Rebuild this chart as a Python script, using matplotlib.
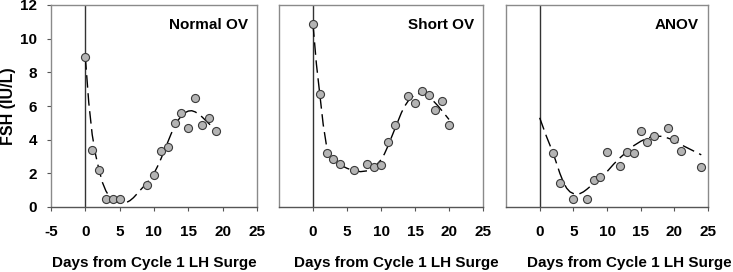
import matplotlib
matplotlib.use("Agg")
import matplotlib.pyplot as plt

plt.rcParams['font.family'] = ['Liberation Sans', 'DejaVu Sans']
plt.rcParams['font.weight'] = 'bold'
plt.rcParams['axes.unicode_minus'] = False

# observed FSH (IU/L) per day from cycle 1 LH surge
normal_days = [0, 1, 2, 3, 4, 5, 9, 10, 11, 12, 13, 14, 15, 16, 17, 18, 19]
normal_fsh = [8.9, 3.4, 2.2, 0.5, 0.5, 0.5, 1.3, 1.9, 3.3, 3.55, 5.0, 5.6, 4.7, 6.5, 4.9, 5.3, 4.5]

short_days = [0, 1, 2, 3, 4, 6, 8, 9, 10, 11, 12, 14, 15, 16, 17, 18, 19, 20]
short_fsh = [10.85, 6.7, 3.2, 2.85, 2.55, 2.2, 2.55, 2.35, 2.5, 3.85, 4.9, 6.6, 6.2, 6.9, 6.65, 5.75, 6.3, 4.85]

anov_days = [2, 3, 5, 7, 8, 9, 10, 12, 13, 14, 15, 16, 17, 19, 20, 21, 24]
anov_fsh = [3.2, 1.45, 0.5, 0.5, 1.6, 1.8, 3.25, 2.45, 3.25, 3.2, 4.5, 3.85, 4.2, 4.7, 4.05, 3.3, 2.4]

# fitted curves
normal_fit_x = [0, 0.5, 1, 1.5, 2, 2.5, 3, 3.5, 4, 4.5, 5, 5.5, 6, 6.5, 7, 7.5, 8, 8.5, 9, 9.5,
                10, 10.5, 11, 11.5, 12, 12.5, 13, 13.5, 14, 14.5, 15, 15.5, 16, 16.5, 17, 17.5, 18, 18.5, 19]
normal_fit_y = [8.9, 6.2, 4.3, 3.1, 2.2, 1.45, 0.95, 0.62, 0.42, 0.3, 0.24, 0.22, 0.27, 0.38, 0.55, 0.77,
                1.0, 1.22, 1.45, 1.7, 2.0, 2.4, 2.85, 3.35, 3.85, 4.35, 4.8, 5.15, 5.42, 5.6, 5.7, 5.72,
                5.65, 5.52, 5.35, 5.15, 4.95, 4.75, 4.58]

short_fit_x = [0, 0.5, 1, 1.5, 2, 2.5, 3, 4, 5, 6, 7, 8, 9, 10, 10.5, 11, 11.5, 12, 12.5, 13, 13.5,
               14, 14.5, 15, 15.5, 16, 16.5, 17, 17.5, 18, 18.5, 19, 19.5, 20]
short_fit_y = [10.85, 8.5, 6.7, 4.9, 3.6, 3.0, 2.75, 2.5, 2.3, 2.15, 2.1, 2.15, 2.35, 2.8, 3.15, 3.6,
               4.1, 4.6, 5.1, 5.6, 6.0, 6.3, 6.52, 6.65, 6.73, 6.75, 6.68, 6.55, 6.38, 6.17, 5.95,
               5.7, 5.45, 5.2]

anov_fit_x = [0, 0.5, 1, 1.5, 2, 2.5, 3, 3.5, 4, 4.5, 5, 5.5, 6, 6.5, 7, 7.5, 8, 9, 10, 11, 12, 13,
              14, 15, 16, 17, 18, 19, 20, 21, 22, 23, 24]
anov_fit_y = [5.3, 4.75, 4.2, 3.7, 3.2, 2.6, 2.0, 1.5, 1.12, 0.9, 0.8, 0.77, 0.8, 0.9, 1.05, 1.22, 1.4,
              1.75, 2.1, 2.55, 2.95, 3.3, 3.65, 3.9, 4.1, 4.2, 4.2, 4.1, 3.95, 3.7, 3.5, 3.3, 3.1]

panels = [
    ("Normal OV", normal_days, normal_fsh, normal_fit_x, normal_fit_y),
    ("Short OV", short_days, short_fsh, short_fit_x, short_fit_y),
    ("ANOV", anov_days, anov_fsh, anov_fit_x, anov_fit_y),
]

W, H = 733, 272
fig = plt.figure(figsize=(W / 100, H / 100), dpi=100)

# axes boxes in pixels (left, right) and where each x label is centred
boxes = [(51, 257), (279, 483), (506, 708)]
xlabel_pos = [0.5, 0.574, 0.609]
top, bottom = 5, 207

for i, (name, days, fsh, fx, fy) in enumerate(panels):
    l, r = boxes[i]
    ax = fig.add_axes([l / W, (H - bottom) / H, (r - l) / W, (bottom - top) / H])
    ax.set_xlim(-5, 25)
    ax.set_ylim(0, 12)

    ax.axvline(0, color='#333333', lw=1.0, zorder=1)
    ax.plot(fx, fy, color='black', lw=1.0, dashes=(9, 4), zorder=2)
    ax.plot(days, fsh, 'o', ms=5.8, mfc='#b4b4b4', mec='#3a3a3a', mew=0.8, zorder=3)

    for s in ax.spines.values():
        s.set_color('#8a8a8a')
        s.set_linewidth(1.0)
    ax.spines['bottom'].set_color('#555555')

    if i == 0:
        ax.set_xticks([-5, 0, 5, 10, 15, 20, 25])
        ax.set_yticks([0, 2, 4, 6, 8, 10, 12])
        ax.set_ylabel("FSH (IU/L)", fontsize=11.5, fontweight='bold')
        ax.yaxis.set_label_coords(-0.17, 0.5)
        ax.tick_params(axis='y', direction='out', length=3, width=0.8, color='#555555',
                       labelsize=11, pad=7)
    else:
        ax.set_xticks([0, 5, 10, 15, 20, 25])
        ax.set_yticks([])

    ax.tick_params(axis='x', direction='out', length=3, width=0.8, color='#555555',
                   labelsize=11, pad=10)
    for lab in ax.get_xticklabels() + ax.get_yticklabels():
        lab.set_fontweight('bold')

    ax.set_xlabel("Days from Cycle 1 LH Surge", fontsize=11, fontweight='bold')
    ax.xaxis.set_label_coords(xlabel_pos[i], -0.245)
    ax.text(0.955, 0.90, name, transform=ax.transAxes, ha='right', va='center',
            fontsize=11, fontweight='bold')

fig.savefig("out.png", dpi=100)
